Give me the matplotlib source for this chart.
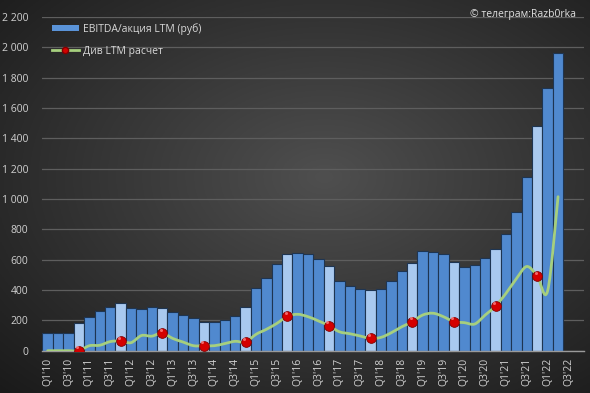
import numpy as np
import matplotlib
matplotlib.use("Agg")
import matplotlib.pyplot as plt
from matplotlib.path import Path
from matplotlib.patches import PathPatch, Patch
from matplotlib.lines import Line2D
from matplotlib.ticker import FuncFormatter

plt.rcParams["font.family"] = ["Open Sans", "DejaVu Sans"]

# quarters with data (Q1'10 .. Q2'22), axis runs two more slots to Q4'22
quarters = ["Q1'10", "Q2'10", "Q3'10", "Q4'10", "Q1'11", "Q2'11", "Q3'11", "Q4'11",
            "Q1'12", "Q2'12", "Q3'12", "Q4'12", "Q1'13", "Q2'13", "Q3'13", "Q4'13",
            "Q1'14", "Q2'14", "Q3'14", "Q4'14", "Q1'15", "Q2'15", "Q3'15", "Q4'15",
            "Q1'16", "Q2'16", "Q3'16", "Q4'16", "Q1'17", "Q2'17", "Q3'17", "Q4'17",
            "Q1'18", "Q2'18", "Q3'18", "Q4'18", "Q1'19", "Q2'19", "Q3'19", "Q4'19",
            "Q1'20", "Q2'20", "Q3'20", "Q4'20", "Q1'21", "Q2'21", "Q3'21", "Q4'21",
            "Q1'22", "Q2'22"]
axis_quarters = quarters + ["Q3'22", "Q4'22"]

ebitda = [120, 120, 120, 180, 222, 260, 287, 314,
          284, 277, 288, 280, 255, 237, 213, 186,
          191, 204, 226, 288, 411, 481, 574, 635,
          642, 637, 604, 558, 462, 429, 404, 398,
          409, 462, 528, 580, 659, 653, 640, 583,
          554, 565, 609, 668, 771, 912, 1146, 1481,
          1734, 1960]

div_ltm = [0, 0, 0, 0, 33, 36, 60, 64,
           53, 100, 96, 117, 81, 57, 33, 33,
           33, 47, 62, 57, 108, 141, 180, 226,
           240, 224, 196, 165, 125, 112, 97, 81,
           88, 119, 158, 191, 235, 247, 224, 191,
           185, 176, 235, 295, 378, 475, 555, 492,
           395, 1015]

yticks = [0, 200, 400, 600, 800, 1000, 1200, 1400, 1600, 1800, 2000, 2200]

fig = plt.figure(figsize=(5.9, 3.93), dpi=100)

# dark radial background
bg = fig.add_axes([0, 0, 1, 1], zorder=-10)
yy, xx = np.mgrid[0:1:200j, 0:1:300j]
r = np.sqrt(((xx - 0.55) / 0.75) ** 2 + ((yy - 0.45) / 0.75) ** 2)
shade = np.clip(0.31 - 0.2 * r, 0.1, 0.35)
bg.imshow(np.dstack([shade, shade, shade]), aspect="auto", extent=[0, 1, 0, 1])
bg.axis("off")

ax = fig.add_axes([0.072, 0.1076, 0.918, 0.8494])
ax.patch.set_alpha(0)

x = np.arange(len(quarters))
is_q4 = [q.startswith("Q4") for q in quarters]
bar_colors = ["#a9c9ef" if h else "#5089cf" for h in is_q4]
ax.bar(x, ebitda, width=1.0, color=bar_colors, edgecolor="#1e3552", linewidth=0.8, zorder=2)

# smooth line through the points (catmull-rom as bezier segments)
pts = np.column_stack([x, div_ltm]).astype(float)
verts = [pts[0]]
codes = [Path.MOVETO]
for i in range(len(pts) - 1):
    p0 = pts[max(i - 1, 0)]
    p1 = pts[i]
    p2 = pts[i + 1]
    p3 = pts[min(i + 2, len(pts) - 1)]
    verts += [p1 + (p2 - p0) / 6, p2 - (p3 - p1) / 6, p2]
    codes += [Path.CURVE4] * 3
ax.add_patch(PathPatch(Path(verts, codes), fill=False, edgecolor="#a6cf7e",
                       linewidth=2.0, zorder=3, capstyle="round"))

q4x = [i for i in x if is_q4[i]]
q4y = [div_ltm[i] for i in q4x]
ax.plot(q4x, q4y, linestyle="none", marker="o", markersize=7,
        markerfacecolor="#d40000", markeredgecolor="#800000", markeredgewidth=0.6, zorder=4)
ax.plot(np.array(q4x) - 0.15, np.array(q4y) + 22, linestyle="none", marker="o",
        markersize=2.2, markerfacecolor="#ff8080", markeredgewidth=0, alpha=0.8, zorder=5)

ax.set_xlim(-0.5, len(axis_quarters) - 0.5)
ax.set_ylim(0, 2200)
ax.set_yticks(yticks)
ax.yaxis.set_major_formatter(FuncFormatter(lambda v, p: f"{int(v):,}".replace(",", " ")))
ax.set_xticks(range(0, len(axis_quarters), 2))
ax.set_xticklabels(axis_quarters[::2], rotation=90)
ax.tick_params(axis="both", length=0, colors="#d0d0d0", labelsize=7.5)
ax.tick_params(axis="x", pad=5)
ax.tick_params(axis="y", pad=10)
ax.grid(axis="y", color="#5e5e5e", linewidth=0.9, zorder=0)
ax.set_axisbelow(True)
for s in ["top", "right", "left"]:
    ax.spines[s].set_visible(False)
ax.spines["bottom"].set_color("#9a9a9a")
ax.spines["bottom"].set_linewidth(1.0)

handles = [Patch(facecolor="#5a93d8", edgecolor="none"),
           Line2D([], [], color="#a6cf7e", linewidth=2.0, marker="o", markersize=4.5,
                  markerfacecolor="#d40000", markeredgecolor="#800000")]
leg = ax.legend(handles, ["EBITDA/акция LTM (руб)", "Див LTM расчет"], loc="upper left",
                bbox_to_anchor=(0.0, 1.01), frameon=False, fontsize=7.5, labelcolor="#d8d8d8",
                handlelength=2.6, handleheight=0.5, labelspacing=1.05, handletextpad=0.4)

fig.text(0.977, 0.963, "© телеграм:Razb0rka", ha="right", va="center", fontsize=7.5, color="#e0e0e0")

fig.savefig("out.png", dpi=100)
